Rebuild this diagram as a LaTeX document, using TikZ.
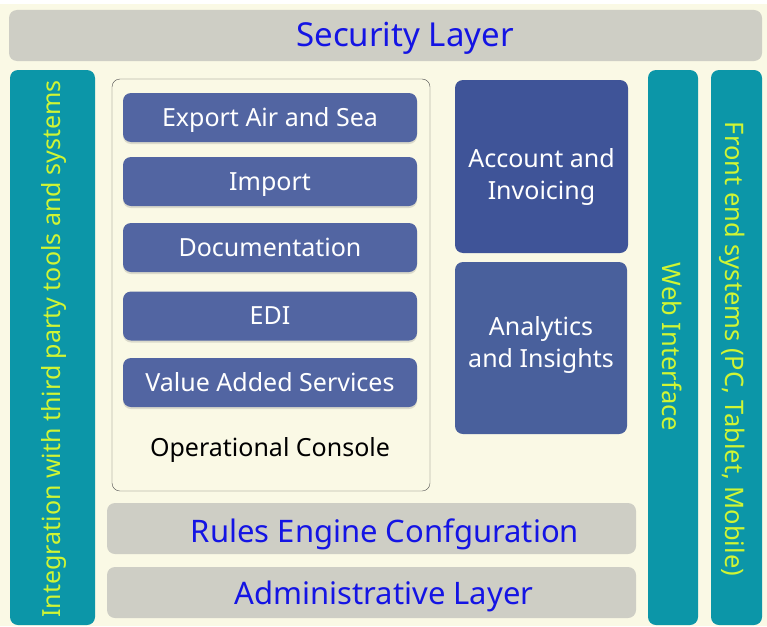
\documentclass[tikz,border=0pt]{standalone}
\usepackage{fontspec}
\setmainfont{Noto Sans}
\usepackage{tikz}
\usetikzlibrary{positioning,shapes,shadows}
\definecolor{cream}{RGB}{250,249,229}
\definecolor{layergray}{RGB}{206,206,197}
\definecolor{layerblue}{RGB}{20,20,228}
\definecolor{tealbar}{RGB}{12,150,168}
\definecolor{limetext}{RGB}{208,245,52}
\definecolor{modblue}{RGB}{82,101,162}
\definecolor{darkblue}{RGB}{63,84,152}
\definecolor{midblue}{RGB}{73,96,156}
\tikzset{
        x=1pt, y=-1pt, % one unit is one pixel of the picture
        captext/.style={inner sep=0pt, text height=#1, text depth=0pt}, % centres a line on its capitals
        layer/.style={fill=layergray, rounded corners=8pt, inner sep=0pt}, % grey full width layers
        layertext/.style={captext=22.1pt, text=layerblue, font=\fontsize{31}{36}\selectfont}, % blue text on the layers
        side/.style={fill=tealbar, rounded corners=8pt, inner sep=0pt, minimum width=50pt, minimum height=555pt}, % teal columns
        sidetext/.style={captext=18.2pt, text=limetext, font=\fontsize{25.5}{30}\selectfont}, % text along the columns
        module/.style={fill=modblue, rounded corners=8pt, minimum width=294pt, minimum height=49pt, drop shadow={shadow xshift=0pt, shadow yshift=-2pt, opacity=.25}}, % modules of the console
        moduletext/.style={captext=17.9pt, text=white, font=\fontsize{25}{30}\selectfont}, % module names
        block/.style={rounded corners=8pt, minimum width=173pt, minimum height=173pt}, % square blocks
        blocktext/.style={text=white, align=center, font=\fontsize{25}{32}\selectfont}, % text of the blocks
}
\begin{document}
\begin{tikzpicture}
\useasboundingbox (0,0) rectangle (767,626);
\fill[cream] (0,4) rectangle (767,626);

\node[layer, minimum width=753pt, minimum height=51pt] (security) at (385.5,35.5) {};
\node[layertext, captext=23.6pt, font=\fontsize{33}{38}\selectfont] (securitytxt) at (405,35) {Security Layer};

\node[side, minimum width=85pt] (integration) at (52.5,347.5) {};
\node[sidetext, rotate=90, captext=17.9pt, font=\fontsize{25}{30}\selectfont] (integrationtxt) at (52,349) {Integration with third party tools and systems};

\node[draw=black!70, fill=cream, rounded corners=8pt, minimum width=318pt, minimum height=412pt] (console) at (271,285) {};
\node[module] (export) at (270,117.5) {};
\node[moduletext] (exporttxt) at (export) {Export Air and Sea};
\node[module] (import) at (270,181.5) {};
\node[moduletext] (importtxt) at (import) {Import};
\node[module] (docs) at (270,247.5) {};
\node[moduletext] (docstxt) at (docs) {Documentation};
\node[module] (edi) at (270,316) {};
\node[moduletext] (editxt) at (edi) {EDI};
\node[module] (vas) at (270,382.5) {};
\node[moduletext] (vastxt) at (vas) {Value Added Services};
\node[moduletext, text=black] (consoletxt) at (270,447.5) {Operational Console};

\node[block, fill=darkblue] (account) at (541.5,166.5) {};
\node[blocktext] (accounttxt) at (541.5,176.5) {Account and\\Invoicing};
\node[block, fill=midblue, minimum width=172pt, minimum height=172pt] (analytics) at (541,348) {};
\node[blocktext] (analyticstxt) at (541,345) {Analytics\\and Insights};

\node[side] (web) at (673,347.5) {};
\node[sidetext, rotate=-90] (webtxt) at (672,347) {Web Interface};
\node[side, minimum width=51pt] (front) at (736.5,347.5) {};
\node[sidetext, rotate=-90] (fronttxt) at (735,349) {Front end systems (PC, Tablet, Mobile)};

\node[layer, minimum width=529pt, minimum height=51pt] (rules) at (371.5,528.5) {};
\node[layertext] (rulestxt) at (385,531) {Rules Engine Confguration};
\node[layer, minimum width=529pt, minimum height=51pt] (admin) at (371.5,592.5) {};
\node[layertext] (admintxt) at (384,593) {Administrative Layer};

\end{tikzpicture}
\end{document}
